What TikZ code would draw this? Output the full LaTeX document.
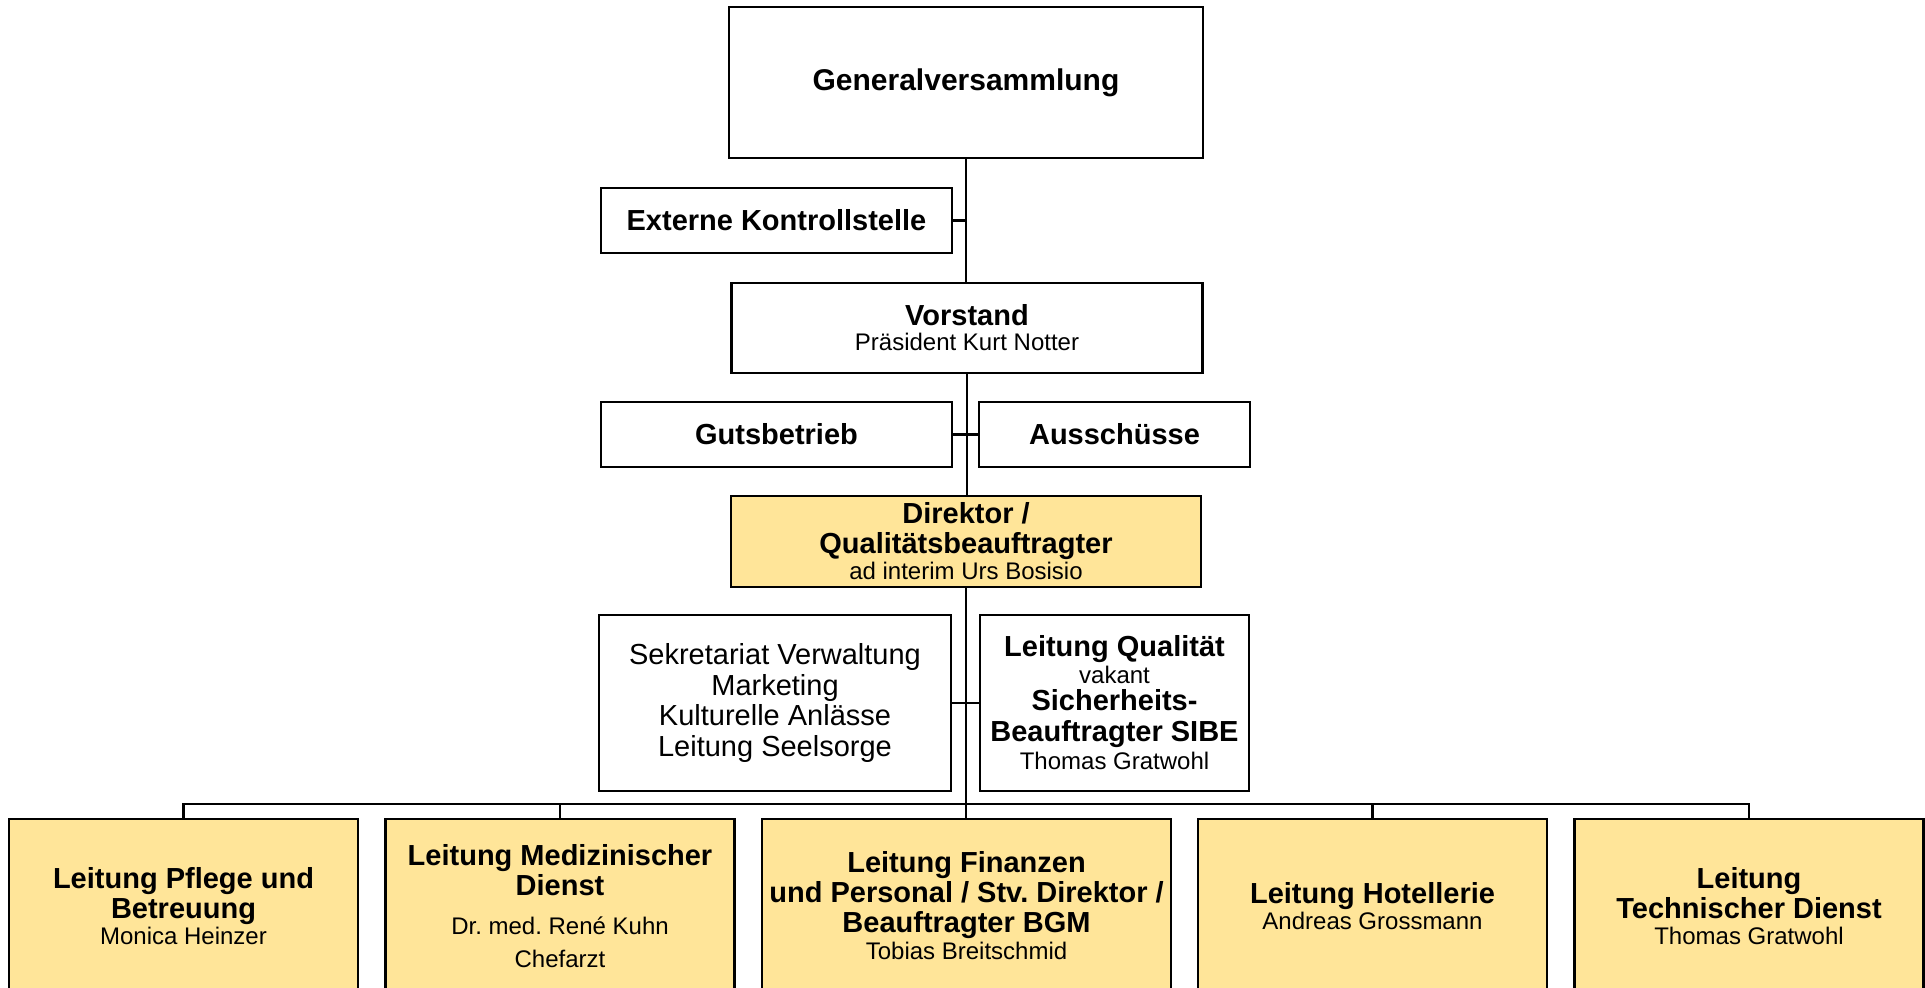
\documentclass[tikz,border=0pt]{standalone}
\usepackage{fontspec}
\setmainfont{Liberation Sans}
\usepackage{tikz}
\usetikzlibrary{positioning, calc}
\frenchspacing
\definecolor{leitgelb}{RGB}{255,229,153}
\newcommand{\pers}{\fontsize{12}{15}\selectfont\mdseries}
\tikzset{
    orgbox/.style={rectangle, draw=black, line width=1.1pt, fill=white, align=center, inner sep=2pt,
        font=\fontsize{14.5}{15}\selectfont\bfseries},
    leitbox/.style={orgbox, fill=leitgelb, minimum width=174.5pt, minimum height=87pt},
    verbindung/.style={draw=black, line width=1.1pt}
}

\begin{document}
\begin{tikzpicture}[x=0.5pt, y=-0.5pt]
    \useasboundingbox (0,0) rectangle (1925,988);

    % Aufsicht
    \node[orgbox, minimum width=237pt, minimum height=75.5pt, font=\fontsize{15}{15}\selectfont\bfseries] (gv) at (966,82.5) {Generalversammlung};
    \node[orgbox, minimum width=175.5pt, minimum height=32.5pt] (ext) at (776.5,220.5) {Externe Kontrollstelle};
    \node[orgbox, minimum width=235.5pt, minimum height=45pt] (vor) at (967,328) {Vorstand\\[-2.5pt]{\pers Präsident Kurt Notter}};
    \node[orgbox, minimum width=175.5pt, minimum height=32.5pt] (guts) at (776.5,434.5) {Gutsbetrieb};
    \node[orgbox, minimum width=135.5pt, minimum height=32.5pt] (aus) at (1114.5,434.5) {Ausschüsse};

    % Direktion
    \node[orgbox, fill=leitgelb, minimum width=235pt, minimum height=45.5pt] (dir) at (966,541.5) {Direktor /\\Qualitätsbeauftragter\\[-2pt]{\pers ad interim Urs Bosisio}};
    \node[orgbox, minimum width=176pt, minimum height=88pt, font=\fontsize{14.5}{15.25}\selectfont] (sek) at (775,703) {Sekretariat Verwaltung\\Marketing\\Kulturelle Anlässe\\Leitung Seelsorge};
    \node[orgbox, minimum width=134.5pt, minimum height=88pt] (qual) at (1114.5,703) {Leitung Qualität\\[-1.5pt]{\pers vakant}\\[-1.5pt]Sicherheits-\\[0.5pt]Beauftragter SIBE\\[-1pt]{\pers Thomas Gratwohl}};

    % Bereichsleitungen
    \node[leitbox] (pflege) at (183.5,906) {Leitung Pflege und\\Betreuung\\[-2pt]{\pers Monica Heinzer}};
    \node[leitbox] (med) at (560,906) {Leitung Medizinischer\\Dienst\\[4.5pt]{\pers Dr. med. René Kuhn}\\[1.5pt]{\pers Chefarzt}};
    \node[leitbox, minimum width=204.5pt] (fin) at (966.5,906) {Leitung Finanzen\\und Personal / Stv. Direktor /\\Beauftragter BGM\\[-1.5pt]{\pers Tobias Breitschmid}};
    \node[leitbox] (hotel) at (1372.5,906) {Leitung Hotellerie\\[-2pt]{\pers Andreas Grossmann}};
    \node[leitbox] (tech) at (1749,906) {Leitung\\Technischer Dienst\\[-2pt]{\pers Thomas Gratwohl}};

    % Linien
    \coordinate (bus) at (966,804);
    \draw[verbindung] (gv.south) -- (gv.south |- vor.north);
    \draw[verbindung] (ext.east) -- (ext.east -| gv.south);
    \draw[verbindung] (vor.south) -- (vor.south |- dir.north);
    \draw[verbindung] (guts.east) -- (aus.west);
    \draw[verbindung] (dir.south) -- (dir.south |- fin.north);
    \draw[verbindung] (sek.east) -- (qual.west);
    \draw[verbindung] (pflege.north) |- (bus) -| (tech.north);
    \draw[verbindung] (med.north) -- (med.north |- bus);
    \draw[verbindung] (hotel.north) -- (hotel.north |- bus);
\end{tikzpicture}
\end{document}
